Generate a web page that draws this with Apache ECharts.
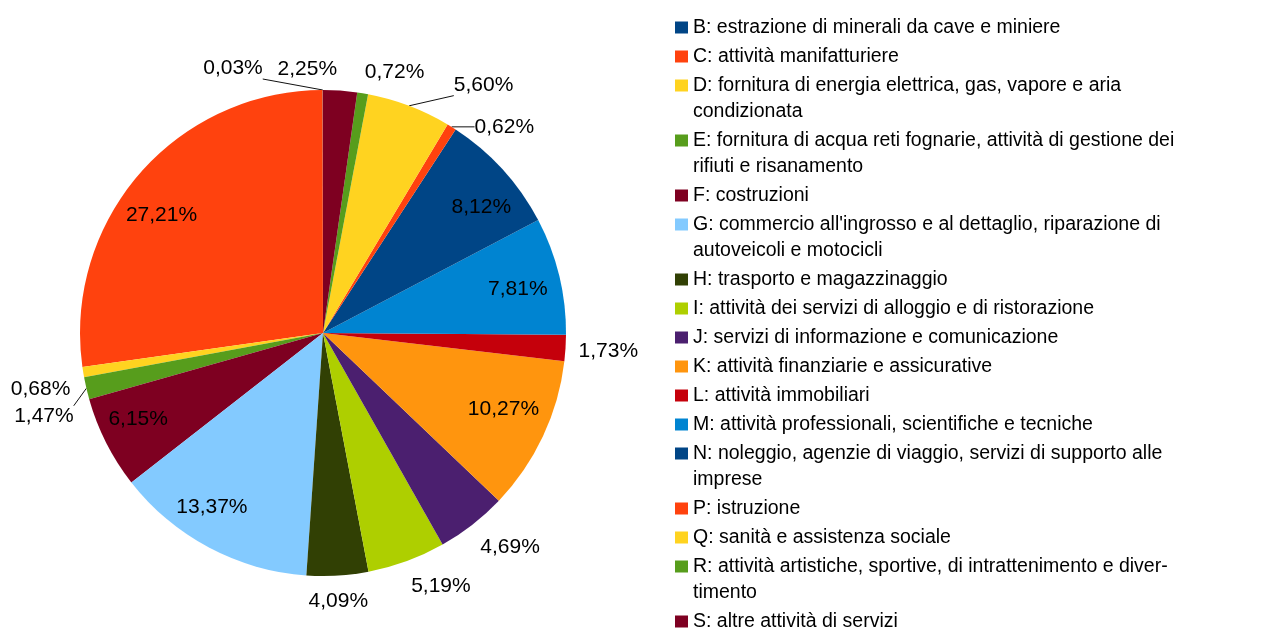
<!DOCTYPE html>
<html>
<head>
<meta charset="utf-8">
<title>Composizione per settore</title>
<script src="https://cdn.jsdelivr.net/npm/echarts@6/dist/echarts.min.js"></script>
<style>
  html, body { margin: 0; padding: 0; background: #fff; }
  #chart { width: 1261px; height: 630px; }
</style>
</head>
<body>
<div id="chart"></div>
<script>
// settori ATECO (il testo del legenda va a capo come nell'originale)
const categories = [
  'B: estrazione di minerali da cave e miniere',
  'C: attività manifatturiere',
  'D: fornitura di energia elettrica, gas, vapore e aria\ncondizionata',
  'E: fornitura di acqua reti fognarie, attività di gestione dei\nrifiuti e risanamento',
  'F: costruzioni',
  'G: commercio all\'ingrosso e al dettaglio, riparazione di\nautoveicoli e motocicli',
  'H: trasporto e magazzinaggio',
  'I: attività dei servizi di alloggio e di ristorazione',
  'J: servizi di informazione e comunicazione',
  'K: attività finanziarie e assicurative',
  'L: attività immobiliari',
  'M: attività professionali, scientifiche e tecniche',
  'N: noleggio, agenzie di viaggio, servizi di supporto alle\nimprese',
  'P: istruzione',
  'Q: sanità e assistenza sociale',
  'R: attività artistiche, sportive, di intrattenimento e diver-\ntimento',
  'S: altre attività di servizi'
];

// quote percentuali
const values = [0.03, 27.21, 0.68, 1.47, 6.15, 13.37, 4.09, 5.19, 4.69, 10.27, 1.73, 7.81, 8.12, 0.62, 5.60, 0.72, 2.25];

// palette LibreOffice
const palette = ['#004586', '#ff420e', '#ffd320', '#579d1c', '#7e0021', '#83caff', '#314004', '#aecf00',
  '#4b1f6f', '#ff950e', '#c5000b', '#0084d1'];

// geometria della torta
const CX = 323, CY = 333, R = 243;
const INSIDE_RATIO = 0.825;
const GAP = 13;
const FONT = 'Liberation Sans, Arial, sans-serif';

// etichette spostate a mano come nell'originale
const labelNudge = {
  B: [-60, 0], D: [0, 13], E: [0, 23], P: [16, 20], Q: [40, 0], S: [-4, 0],
  C: [-10, 13], F: [-6, -4], G: [-17, -3], K: [-1, -9], M: [0, 3], N: [10, 9]
};

function sideOf(deg) {
  if (deg >= 330 || deg < 30) return ['left', 'middle'];
  if (deg < 84) return ['left', 'bottom'];
  if (deg < 150) return ['right', 'bottom'];
  if (deg < 200) return ['right', 'middle'];
  if (deg < 260) return ['right', 'top'];
  if (deg < 280) return ['center', 'top'];
  return ['left', 'top'];
}

function clamp(v, a, b) {
  return Math.max(a, Math.min(b, v));
}

function placeLabel(p) {
  const pts = p.labelLinePoints;
  if (!pts) return {};
  const p0 = pts[0];
  const ux = (p0[0] - CX) / R;
  const uy = (p0[1] - CY) / R;
  const nudge = labelNudge[categories[p.dataIndex][0]] || [0, 0];

  if (values[p.dataIndex] > 6) {
    return {
      x: CX + ux * R * INSIDE_RATIO + nudge[0],
      y: CY + uy * R * INSIDE_RATIO + nudge[1],
      align: 'center',
      verticalAlign: 'middle',
      labelLinePoints: [p0, p0.slice()]
    };
  }

  let deg = Math.atan2(-uy, ux) * 180 / Math.PI;
  if (deg < 0) deg += 360;
  const side = sideOf(deg);
  const x = p0[0] + ux * GAP + nudge[0];
  const y = p0[1] + uy * GAP + nudge[1] + 2;
  const w = p.labelRect.width, h = p.labelRect.height;
  const left = side[0] === 'left' ? x : side[0] === 'right' ? x - w : x - w / 2;
  const top = side[1] === 'top' ? y : side[1] === 'bottom' ? y - h : y - h / 2;

  let line = [p0, p0.slice()];
  if (Math.hypot(nudge[0], nudge[1]) > 15) {
    line = [p0, [clamp(p0[0], left, left + w), clamp(p0[1], top, top + h)]];
  }
  return { x: x, y: y, align: side[0], verticalAlign: side[1], labelLinePoints: line };
}

// legenda: una riga per componente, così il quadratino resta sulla prima riga
const legends = [];
let lineY = 27.5;
categories.forEach(function (name) {
  name.split('\n').forEach(function (text, j) {
    if (j > 0) lineY += 26;
    legends.push({
      orient: 'vertical',
      left: 675,
      top: lineY - 13,
      padding: 0,
      icon: j === 0 ? 'rect' : 'none',
      itemWidth: 13,
      itemHeight: 12,
      selectedMode: false,
      textStyle: { fontFamily: FONT, fontSize: 19.5, color: '#000', lineHeight: 26 },
      formatter: function () { return text; },
      data: [name]
    });
  });
  lineY += 29;
});

const chart = echarts.init(document.getElementById('chart'));

chart.setOption({
  animation: false,
  backgroundColor: '#fff',
  color: palette,
  legend: legends,
  series: [{
    type: 'pie',
    center: [CX, CY],
    radius: R,
    startAngle: 90,
    clockwise: false,
    avoidLabelOverlap: false,
    emphasis: { scale: false },
    itemStyle: { borderWidth: 0 },
    label: {
      show: true,
      position: 'outside',
      fontFamily: FONT,
      fontSize: 21,
      color: '#000',
      formatter: function (p) {
        return p.value.toFixed(2).replace('.', ',') + '%';
      }
    },
    labelLine: {
      show: true,
      lineStyle: { color: '#111', width: 1 }
    },
    labelLayout: placeLabel,
    data: categories.map(function (c, i) {
      return { name: c, value: values[i] };
    })
  }]
});
</script>
</body>
</html>
